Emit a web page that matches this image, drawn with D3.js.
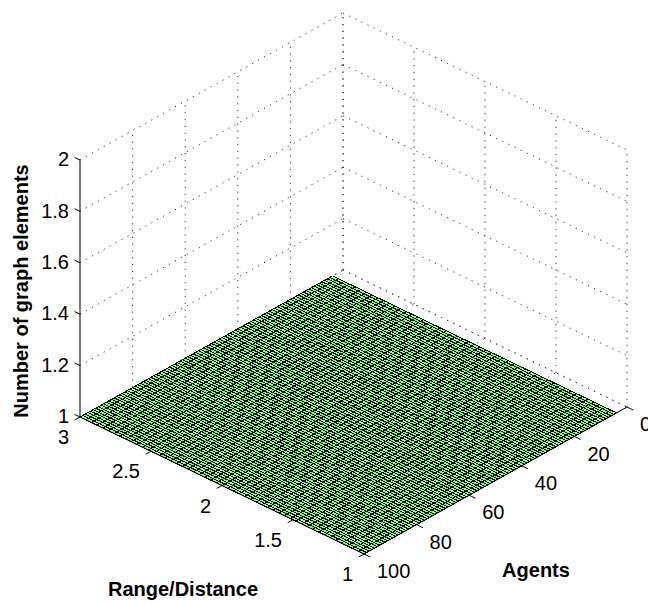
<!DOCTYPE html>
<html>
<head>
<meta charset="utf-8">
<script src="https://cdn.jsdelivr.net/npm/d3@7"></script>
<style>
  body { margin: 0; background: #fff; }
  text { font-family: "Liberation Sans", Arial, Helvetica, sans-serif; font-size: 20px; fill: #000; }
  .title { font-weight: bold; }
  .grid { stroke: #333; stroke-width: 1; stroke-dasharray: 1.2 5.6; fill: none; }
  .axis-line { stroke: #000; stroke-width: 1; fill: none; }
  .mesh { stroke: #000; stroke-width: 1; fill: none; shape-rendering: crispEdges; }
</style>
</head>
<body>
<script>
// tick values of the three axes
var zTicks = [1, 1.2, 1.4, 1.6, 1.8, 2];
var rangeTicks = [3, 2.5, 2, 1.5, 1];
var agentTicks = [0, 20, 40, 60, 80, 100];

// sample grid of the surface (agents 4..100, range 1..3)
var agentSamples = d3.range(4, 101, 1);
var rangeSamples = d3.range(0, 51).map(i => 1 + i * 0.04);
// every sample has exactly one graph element
var graphElements = agentSamples.map(() => rangeSamples.map(() => 1));

var width = 648;
var height = 604;

// orthographic view: corner (range 3, agents 100, z 1) and the two floor edges
var origin = [80, 417];
var rangeEdge = [284, 137];
var agentEdge = [263, -147];

var uScale = d3.scaleLinear().domain([3, 1]).range([0, 1]);
var vScale = d3.scaleLinear().domain([100, 0]).range([0, 1]);
var zScale = d3.scaleLinear().domain([1, 2]).range([0, -257]);

function project(r, a, z) {
  var u = uScale(r), v = vScale(a);
  return [
    origin[0] + u * rangeEdge[0] + v * agentEdge[0],
    origin[1] + u * rangeEdge[1] + v * agentEdge[1] + zScale(z)
  ];
}

function unit(vec, len) {
  var n = Math.hypot(vec[0], vec[1]);
  return [vec[0] / n * len, vec[1] / n * len];
}

var svg = d3.select('body')
  .append('svg')
  .attr('width', width)
  .attr('height', height);

var line = d3.line();

function seg(g, cls, p1, p2) {
  g.append('path').attr('class', cls).attr('d', line([p1, p2]));
}

// back walls and floor grid (dotted)
var grid = svg.append('g');
var rMin = 1, rMax = 3, aMin = 0, aMax = 100, zMin = 1, zMax = 2;

// wall at range = 3
agentTicks.filter(a => a < aMax).forEach(a => {
  seg(grid, 'grid', project(rMax, a, zMin), project(rMax, a, zMax));
});
zTicks.forEach(z => {
  seg(grid, 'grid', project(rMax, aMax, z), project(rMax, aMin, z));
});
// wall at agents = 0
rangeTicks.forEach(r => {
  seg(grid, 'grid', project(r, aMin, zMin), project(r, aMin, zMax));
});
zTicks.forEach(z => {
  seg(grid, 'grid', project(rMax, aMin, z), project(rMin, aMin, z));
});
// floor
agentTicks.forEach(a => {
  seg(grid, 'grid', project(rMax, a, zMin), project(rMin, a, zMin));
});
rangeTicks.forEach(r => {
  seg(grid, 'grid', project(r, aMax, zMin), project(r, aMin, zMin));
});

// surface cells
var surf = svg.append('g');
for (var i = 0; i < agentSamples.length - 1; i++) {
  for (var j = 0; j < rangeSamples.length - 1; j++) {
    var a0 = agentSamples[i], a1 = agentSamples[i + 1];
    var r0 = rangeSamples[j], r1 = rangeSamples[j + 1];
    surf.append('path')
      .attr('d', line([
        project(r0, a0, graphElements[i][j]),
        project(r1, a0, graphElements[i][j + 1]),
        project(r1, a1, graphElements[i + 1][j + 1]),
        project(r0, a1, graphElements[i + 1][j])
      ]) + 'Z')
      .attr('fill', '#80ff80')
      .attr('stroke', '#80ff80')
      .attr('stroke-width', 0.5);
  }
}
// mesh lines
agentSamples.forEach((a, i) => {
  surf.append('path').attr('class', 'mesh')
    .attr('d', line(rangeSamples.map((r, j) => project(r, a, graphElements[i][j]))));
});
rangeSamples.forEach((r, j) => {
  surf.append('path').attr('class', 'mesh')
    .attr('d', line(agentSamples.map((a, i) => project(r, a, graphElements[i][j]))));
});

// axes
var axes = svg.append('g');
seg(axes, 'axis-line', project(rMax, aMax, zMin), project(rMax, aMax, zMax));
seg(axes, 'axis-line', project(rMax, aMax, zMin), project(rMin, aMax, zMin));
seg(axes, 'axis-line', project(rMin, aMax, zMin), project(rMin, aMin, zMin));

var zTickDir = unit([-rangeEdge[0], -rangeEdge[1]], 6);
var rTickDir = unit([-agentEdge[0], -agentEdge[1]], 6);
var aTickDir = unit(rangeEdge, 7);

zTicks.forEach(z => {
  var p = project(rMax, aMax, z);
  seg(axes, 'axis-line', p, [p[0] + zTickDir[0], p[1] + zTickDir[1]]);
  axes.append('text')
    .attr('x', p[0] - 11).attr('y', p[1] - 1)
    .attr('dy', '0.36em')
    .attr('text-anchor', 'end')
    .text(z);
});

rangeTicks.forEach(r => {
  var p = project(r, aMax, zMin);
  seg(axes, 'axis-line', p, [p[0] + rTickDir[0], p[1] + rTickDir[1]]);
  axes.append('text')
    .attr('x', p[0] - 11).attr('y', p[1] + 20)
    .attr('dy', '0.36em')
    .attr('text-anchor', 'end')
    .text(r);
});

agentTicks.forEach(a => {
  var p = project(rMin, a, zMin);
  seg(axes, 'axis-line', p, [p[0] + aTickDir[0], p[1] + aTickDir[1]]);
  axes.append('text')
    .attr('x', p[0] + 13).attr('y', p[1] + 17)
    .attr('dy', '0.36em')
    .attr('text-anchor', 'start')
    .text(a);
});

// axis titles
svg.append('text')
  .attr('class', 'title')
  .attr('transform', 'translate(21,291) rotate(-90)')
  .attr('dy', '0.36em')
  .attr('text-anchor', 'middle')
  .text('Number of graph elements');

svg.append('text')
  .attr('class', 'title')
  .attr('x', 183).attr('y', 596)
  .attr('text-anchor', 'middle')
  .text('Range/Distance');

svg.append('text')
  .attr('class', 'title')
  .attr('x', 536).attr('y', 577)
  .attr('text-anchor', 'middle')
  .text('Agents');
</script>
</body>
</html>
